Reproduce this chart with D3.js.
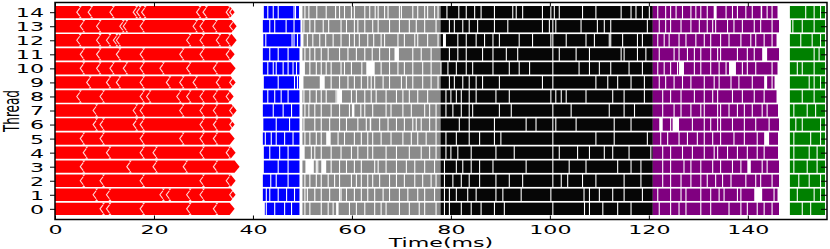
<!DOCTYPE html>
<html><head><meta charset="utf-8">
<script src="https://cdn.jsdelivr.net/npm/d3@7"></script>
<style>body{margin:0;background:#fff}svg{display:block}</style>
</head><body><svg id="c" width="830" height="249"></svg>
<script>
// ---------------- data (time in ms, thread index) ----------------
const threads = [0,1,2,3,4,5,6,7,8,9,10,11,12,13,14];
const xTicks = [0,20,40,60,80,100,120,140];

const redEnd = [36.3,36.5,36.5,37.3,36.5,36.3,36.3,36.7,36.1,36.5,36.5,36.3,36.7,36.7,36.3];
const redNotches = [
  [9.1,10.4,17.2,26.6,32.0],
  [7.7,10.4,21.2,22.5,26.6,29.3,35.3],
  [5.1,9.1,17.2,29.3,34.6],
  [5.1,14.5,19.8,25.9,32.0],
  [5.7,10.4,17.2,19.8,29.3,34.6],
  [5.1,9.1,17.2,25.2,29.3,32.0],
  [7.7,9.1,15.8,17.2,29.3,32.0,35.3],
  [7.7,15.8,17.2,25.2,29.3,32.0,35.3],
  [4.4,9.1,17.2,18.5,24.6,26.6,29.3,32.0,34.6],
  [6.4,10.4,12.4,17.2,22.5,25.2,27.9,32.6,35.3],
  [5.1,8.4,11.1,13.8,17.2,21.2,26.6,32.0],
  [5.1,8.4,12.4,17.2,25.2,29.3,34.6],
  [4.4,8.4,10.4,11.8,12.4,26.6,29.3,32.6,34.6],
  [5.1,8.4,13.1,13.8,17.2,27.9,29.3,31.9,35.3],
  [4.4,6.7,11.1,15.8,16.5,17.5,28.6,29.9,34.6,35.3]
];

const blueSpan = [[42.4,49.4],[42.0,49.4],[42.0,49.4],[42.2,49.4],[42.2,49.4],[42.0,49.4],[42.1,49.4],[42.0,49.4],
  [42.0,49.4],[42.2,49.3],[42.0,49.4],[42.0,49.4],[42.1,49.6],[42.0,49.6],[42.2,49.3]];
const blueGaps = [
  [42.7,44.4,46.4,47.8],
  [42.7,43.4,45.1,46.8,48.4],
  [43.6,44.7,47.1],
  [45.1,47.1],
  [43.4,45.4,47.1],
  [42.5,43.7,44.7,46.4,48.1],
  [44.7,47.4],
  [44.1,46.1,47.8],
  [43.0,44.4,45.7,47.1],
  [45.1,48.4,49.0],
  [43.0,44.1,44.7,46.1,47.1,48.1,48.8],
  [43.4,45.1,47.1],
  [42.6,47.9,48.3,49.0],
  [43.4,44.4,46.7,48.3],
  [43.0,44.1,45.1,48.3,48.6]
];

const graySpan = [[50.0,77.9],[50.0,77.9],[50.0,77.9],[50.0,77.9],[50.0,77.9],[50.0,77.9],[50.0,77.9],[50.0,77.9],
  [50.0,77.9],[50.0,77.9],[50.5,77.9],[50.0,77.9],[50.0,77.9],[50.0,77.9],[50.0,77.9]];
const grayGaps = [
  [50.5,51.5,53.8,55.2,56.2,[56.8,57.3],59.5,60.9,62.6,64.6,65.9,66.9,69.6,71.6,73.6,74.7,77.0],
  [50.5,51.0,52.5,53.8,55.5,57.5,57.8,58.9,60.5,61.9,63.2,64.6,66.3,67.6,69.6,71.3,73.3,74.7,76.7],
  [50.5,51.5,52.8,53.8,55.2,56.5,57.5,59.9,60.9,61.9,63.2,64.2,65.6,67.6,69.0,70.6,72.7,74.3,76.0,77.0],
  [[50.6,52.3],52.8,53.1,[53.8,54.8],55.8,57.5,58.9,60.5,61.9,64.6,65.3,66.9,69.0,71.0,72.7,74.7,76.7],
  [[50.0,50.45],51.8,52.5,53.8,55.8,57.8,59.9,61.2,63.2,64.2,66.9,69.0,71.6,74.0,75.7,77.0],
  [50.5,51.5,52.8,53.8,[54.8,55.7],57.2,58.5,60.5,61.9,63.2,64.2,65.9,67.9,70.3,72.0,73.3,75.0,77.0],
  [50.3,52.5,53.8,55.5,57.5,58.9,61.2,62.9,[63.6,63.9],65.6,67.3,69.0,70.6,72.3,73.0,74.0,75.7,77.0],
  [50.5,51.3,52.5,53.8,55.8,57.5,59.5,[60.0,60.5],61.8,62.6,64.2,66.9,67.9,70.3,72.0,74.7,75.7,77.0],
  [50.3,51.5,52.8,53.8,54.8,56.8,[57.0,58.0],59.9,60.9,62.6,63.9,64.9,66.9,69.0,70.3,71.6,73.3,75.3],
  [50.1,[53.5,54.5],55.8,57.5,59.2,60.5,61.9,63.2,63.9,64.6,66.3,67.6,70.0,71.0,72.3,74.3,76.0,77.4],
  [51.5,52.8,53.8,54.8,55.8,57.8,58.5,59.9,62.0,[62.9,64.6],65.9,67.6,69.3,70.6,72.3,74.3,76.0],
  [50.5,51.5,52.5,53.8,55.2,57.5,59.2,60.9,62.6,64.1,65.6,67.6,[68.6,69.5],72.3,74.0,76.0],
  [50.1,51.0,52.1,53.5,54.7,56.2,57.8,59.5,60.5,61.5,63.2,64.4,65.9,66.6,69.3,70.6,72.7,73.3,75.3,77.4],
  [50.3,51.5,52.5,54.2,55.3,57.8,58.9,60.5,61.2,62.6,64.2,65.3,67.6,69.6,71.6,73.0,74.7,77.0],
  [50.5,51.3,52.9,54.8,56.7,57.5,58.5,59.9,60.5,62.6,63.6,64.7,65.3,66.6,67.3,69.6,70.0,72.3,73.3,74.7,75.3,76.7,77.4]
];

const blackSpan = [[77.9,120.8],[77.9,120.8],[77.9,120.8],[77.9,120.8],[77.9,120.8],[77.9,120.8],[77.9,120.8],[77.9,120.8],
  [77.9,120.8],[77.9,120.8],[77.9,120.8],[77.9,120.8],[77.9,120.8],[77.9,120.8],[77.9,120.8]];
const blackGaps = [
  [78.7,79.7,82.1,84.1,86.1,88.8,90.8,100.6,107.0,108.0,110.7,113.7,116.4],
  [78.7,79.7,81.1,83.4,85.1,89.1,90.5,94.2,100.2,106.9,108.0,110.0,112.7,115.0,118.7],
  [78.7,80.4,82.1,83.7,85.8,89.1,91.8,94.5,100.6,102.3,103.6,106.6,109.3,115.0,118.4],
  [78.7,81.1,82.4,84.1,85.8,88.5,95.2,100.6,103.9,107.3,113.7,116.4,118.4],
  [79.0,80.0,81.4,84.1,89.1,92.8,100.6,101.9,105.6,108.0,111.0,112.7,116.0,120.4],
  [79.0,81.1,83.7,85.8,88.8,90.1,100.6,109.3,113.0,119.7],
  [81.7,83.7,88.8,95.2,97.2,100.6,101.2,105.3,113.0,116.4],
  [79.0,80.4,82.1,83.7,84.4,89.8,92.2,100.6,104.3,112.0,115.0,117.1],
  [79.0,80.0,81.1,82.1,83.7,85.1,89.1,91.8,100.2,101.2,102.3,103.3,107.3,112.7,115.0,119.1],
  [79.7,80.7,82.4,83.7,85.1,86.4,89.8,98.5,100.6,109.3,111.7,113.7,116.4,119.1],
  [78.0,79.4,81.1,83.1,84.4,88.5,91.8,93.8,95.9,100.6,105.9,108.0,110.0,112.3,116.0,118.7],
  [79.7,81.4,83.1,86.4,88.5,91.2,93.5,100.6,101.9,105.3,108.0,114.4,115.0,117.7,119.4],
  [[78.4,79.0],81.4,83.1,85.1,86.8,88.5,89.8,93.8,96.5,100.2,100.6,103.3,107.3,109.0,112.0,112.3,114.7,117.7,118.7],
  [79.7,80.7,82.4,83.7,85.4,88.8,91.5,98.5,99.9,100.6,101.2,106.3,109.6,111.0,112.3,119.7],
  [79.2,81.6,83.1,84.8,86.1,88.8,92.5,93.2,94.5,98.5,100.2,100.9,101.9,106.6,109.3,114.4,116.4,117.4,118.7,120.1]
];

const purpleSpan = [[120.8,146.3],[120.8,146.0],[120.8,146.3],[120.8,146.3],[120.8,146.1],[120.8,146.1],[120.8,146.3],[120.8,146.1],
  [120.8,145.8],[120.8,145.4],[120.8,146.0],[120.8,146.3],[120.8,145.8],[120.8,146.3],[120.8,146.0]];
const purpleGaps = [
  [122.1,124.4,126.1,127.5,130.5,132.5,136.2,138.6,139.9,141.9,143.3,144.9],
  [121.8,124.4,126.5,127.5,130.5,132.5,134.2,135.2,137.9,138.6,[141.3,142.9],145.3],
  [122.8,124.4,126.5,128.5,130.5,131.8,133.5,134.9,136.6,139.6,141.6,142.6,144.9],
  [122.8,124.4,127.1,128.5,130.5,132.9,134.5,136.9,138.6,[139.9,140.6],142.9,143.9],
  [122.8,124.4,126.8,128.8,131.2,133.2,133.9,135.9,137.9,139.9,141.9,143.3],
  [122.4,123.8,126.1,127.8,129.8,131.2,132.9,134.5,137.2,139.3,141.9,[143.3,144.3]],
  [[122.1,122.8],124.4,[124.8,126.1],128.8,131.2,132.5,133.9,134.5,136.9,139.3,141.6,144.3],
  [122.8,125.1,126.5,128.5,130.5,131.2,133.9,134.5,136.2,137.9,139.3,140.9,142.9,143.9],
  [122.8,124.4,126.5,129.2,131.2,132.9,133.9,136.9,138.9,141.3,143.3],
  [122.1,123.4,125.1,126.8,128.5,131.2,133.2,134.2,136.6,138.2,140.9,[143.3,143.9],144.9],
  [121.8,123.1,124.4,125.8,[126.1,127.1],129.2,130.5,132.5,134.2,135.6,[136.2,137.6],138.9,139.9,141.6,144.9],
  [122.1,125.1,126.1,127.8,129.2,130.5,132.5,133.9,134.5,137.9,139.9,141.3,[142.9,143.9]],
  [121.8,123.1,124.1,126.1,127.5,129.5,131.2,132.5,134.5,136.2,138.6,140.6,141.6,143.3,144.9],
  [122.1,123.4,124.4,126.5,128.5,130.2,131.8,132.9,133.5,135.9,137.2,138.9,141.3,142.6,144.9],
  [121.8,123.4,124.4,125.5,126.8,128.5,129.5,130.5,131.8,[133.1,133.7],135.6,136.9,137.9,139.6,140.9,[142.6,142.9],143.9,144.9]
];

const greenSpan = [[148.5,155.6],[148.5,155.6],[148.5,155.6],[148.5,155.6],[148.5,155.6],[148.5,155.6],[148.5,155.6],[148.5,155.6],
  [148.5,155.6],[148.5,155.6],[148.5,155.6],[148.5,155.6],[148.5,155.6],[148.7,155.6],[148.5,155.6]];
const greenGaps = [
  [151.0,152.7],
  [150.0,153.4,154.7],
  [150.3,152.4,154.7],
  [149.3,152.0,154.0],
  [149.3,152.4,154.0],
  [149.3,152.7,154.7],
  [149.7,151.0,154.7],
  [149.3,152.0,153.7],
  [151.0,153.4],
  [152.4,153.4,154.7],
  [150.0,151.0,153.4],
  [153.4,154.4],
  [150.7,153.0,154.7],
  [149.1,151.0,153.4],
  [151.7,153.4,154.7]
];

// ---------------- styling ----------------
const M = {left: 55, right: 827, top: 2.5, bottom: 219.5};
const phaseColor = {blue: "#0000ff", gray: "#8a8a8a", black: "#060606", purple: "#800080", green: "#008000"};
const GAP = 0.22;       // width of a thin idle gap (ms)
const HALF = 0.44;      // half band height in thread units

const phases = [
  {name: "blue", spans: blueSpan, gaps: blueGaps},
  {name: "gray", spans: graySpan, gaps: grayGaps},
  {name: "black", spans: blackSpan, gaps: blackGaps},
  {name: "purple", spans: purpleSpan, gaps: purpleGaps},
  {name: "green", spans: greenSpan, gaps: greenGaps}
];

const svg = d3.select("#c");
const x = d3.scaleLinear().domain([0, 156]).range([M.left, M.right]);
const y = d3.scaleLinear().domain([-0.76, 14.69]).range([M.bottom, M.top]);

function segments(span, gaps) {
  const cuts = gaps.map(g => Array.isArray(g) ? g : [g - GAP/2, g + GAP/2]).sort((a, b) => a[0] - b[0]);
  const out = []; let cur = span[0];
  for (const [a, b] of cuts) {
    if (a > cur) out.push([cur, Math.min(a, span[1])]);
    cur = Math.max(cur, b);
  }
  if (cur < span[1]) out.push([cur, span[1]]);
  return out;
}

const plot = svg.append("g");

// red phase: arrow-tipped bands with small white chevrons
const red = plot.append("g");
threads.forEach(t => {
  const top = y(t + HALF), bot = y(t - HALF), mid = y(t);
  const x0 = x(0), xe = x(redEnd[t]);
  red.append("path")
    .attr("d", `M${x0},${top}L${xe-5},${top}L${xe},${mid}L${xe-5},${bot}L${x0},${bot}Z`)
    .attr("fill", "#ff0000");
  redNotches[t].forEach(n => {
    const xn = x(n);
    red.append("path")
      .attr("d", `M${xn+3},${mid-4}L${xn},${mid}L${xn+3},${mid+4}`)
      .attr("fill", "none").attr("stroke", "#fff").attr("stroke-width", 1.1).attr("opacity", 0.85);
    red.append("path")
      .attr("d", `M${xn+2},${top}L${xn+3.5},${top+2}L${xn+5},${top}Z M${xn+2},${bot}L${xn+3.5},${bot-2}L${xn+5},${bot}Z`)
      .attr("fill", "#fff").attr("opacity", 0.85);
  });
});

// other phases: segments between idle gaps
phases.forEach(ph => {
  const g = plot.append("g").attr("fill", phaseColor[ph.name]);
  threads.forEach(t => {
    const segs = segments(ph.spans[t], ph.gaps[t]);
    g.selectAll(null).data(segs).enter().append("rect")
      .attr("x", d => x(d[0]))
      .attr("width", d => Math.max(0, x(d[1]) - x(d[0])))
      .attr("y", y(t + HALF))
      .attr("height", y(t - HALF) - y(t + HALF));
  });
});

// axes
const fontFam = "'DejaVu Sans', sans-serif";
const STRETCH = 1.8;

const ax = svg.append("g").attr("transform", `translate(0,${M.bottom})`)
  .call(d3.axisBottom(x).tickValues(xTicks).tickSize(-4).tickFormat(d3.format("d")));
ax.selectAll("text").attr("y", 0).attr("dy", 0)
  .attr("transform", `translate(0,14) scale(${STRETCH},1)`)
  .style("font-family", fontFam).style("font-size", "12.3px").attr("fill", "#000");

svg.append("g").attr("transform", `translate(0,${M.top})`)
  .call(d3.axisTop(x).tickValues(xTicks).tickSize(-4).tickFormat(""));

const ay = svg.append("g").attr("transform", `translate(${M.left},0)`)
  .call(d3.axisLeft(y).tickValues(threads).tickSize(5).tickFormat(d3.format("d")));
ay.selectAll("text").attr("x", 0).attr("dy", "0.36em")
  .attr("transform", `translate(-11,0) scale(${STRETCH},1)`)
  .style("font-family", fontFam).style("font-size", "12.3px").attr("fill", "#000");

svg.append("g").attr("transform", `translate(${M.right},0)`)
  .call(d3.axisRight(y).tickValues(threads).tickSize(-6).tickFormat(""));

svg.selectAll(".domain").remove();
svg.selectAll(".tick line").attr("stroke", "#000").attr("stroke-width", 1);

svg.append("rect")
  .attr("x", M.left).attr("y", M.top)
  .attr("width", M.right - M.left).attr("height", M.bottom - M.top)
  .attr("fill", "none").attr("stroke", "#000").attr("stroke-width", 1.5);

// axis titles
svg.append("text")
  .attr("transform", `translate(${(M.left + M.right)/2},247) scale(${STRETCH},1)`)
  .attr("text-anchor", "middle")
  .style("font-family", fontFam).style("font-size", "12.3px")
  .text("Time(ms)");

svg.append("text")
  .attr("transform", `translate(18.5,${(M.top + M.bottom)/2}) scale(${STRETCH},1) rotate(-90)`)
  .attr("text-anchor", "middle")
  .style("font-family", fontFam).style("font-size", "12px")
  .text("Thread");
</script>
</body></html>
